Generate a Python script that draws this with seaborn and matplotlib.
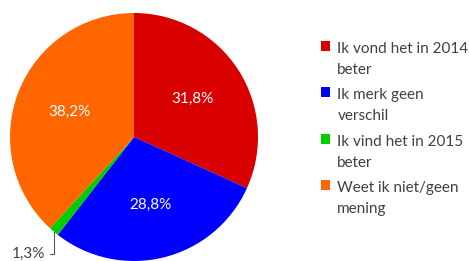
import matplotlib
matplotlib.use("Agg")
import matplotlib.pyplot as plt
import seaborn as sns
import numpy as np
from matplotlib.patches import Patch, Rectangle
from matplotlib.legend_handler import HandlerPatch

# DATA
labels = ["Ik vond het in 2014\nbeter", "Ik merk geen\nverschil",
          "Ik vind het in 2015\nbeter", "Weet ik niet/geen\nmening"]
values = [31.8, 28.8, 1.3, 38.2]
colors = ["#D90000", "#0000FF", "#00CC00", "#FF6600"]

sns.set_theme(style="white")
plt.rcParams['font.family'] = ['Lato', 'DejaVu Sans']
txt_color = "#404040"

fig = plt.figure(figsize=(4.69, 2.61), dpi=100)
ax = fig.add_axes([10/469, 0.0, 248/469, 248/261])

def fmt(p):
    return "" if p < 5 else f"{p:.1f}%".replace(".", ",")

wedges, texts, autotexts = ax.pie(values, colors=colors, startangle=90, counterclock=False,
                                  autopct=fmt, pctdistance=0.56,
                                  wedgeprops=dict(linewidth=0),
                                  textprops=dict(color="white", fontsize=11))
ax.set_xlim(-1, 1)
ax.set_ylim(-1, 1)
ax.set_aspect("equal")

# small slice label with leader line
w = wedges[2]
ang = np.deg2rad((w.theta1 + w.theta2) / 2)
px, py = np.cos(ang), np.sin(ang)
ax.annotate(f"{values[2]:.1f}%".replace(".", ","),
            xy=(px, py), xytext=(px - 0.07, -0.945),
            ha="right", va="center", fontsize=11, color=txt_color,
            annotation_clip=False,
            arrowprops=dict(arrowstyle="-", color="#595959", lw=0.8,
                            shrinkA=1, shrinkB=0,
                            connectionstyle="angle,angleA=0,angleB=90,rad=0"))

# legend marker next to first line of each label
def top_square(legend, orig_handle, xdescent, ydescent, width, height, fontsize):
    return Rectangle((-xdescent, -ydescent + 0.9 * fontsize), width, height)

handles = [Patch(facecolor=c, edgecolor="none") for c in colors]
leg = fig.legend(handles, labels, loc="upper left", bbox_to_anchor=(321/469, 1 - 42/261),
                 frameon=False, fontsize=11, handlelength=0.62, handleheight=0.62,
                 handletextpad=0.45, labelspacing=0.75, borderaxespad=0, borderpad=0,
                 handler_map={Patch: HandlerPatch(patch_func=top_square)})
for t in leg.get_texts():
    t.set_color(txt_color)
    t.set_linespacing(1.63)

fig.savefig("out.png", dpi=100)
